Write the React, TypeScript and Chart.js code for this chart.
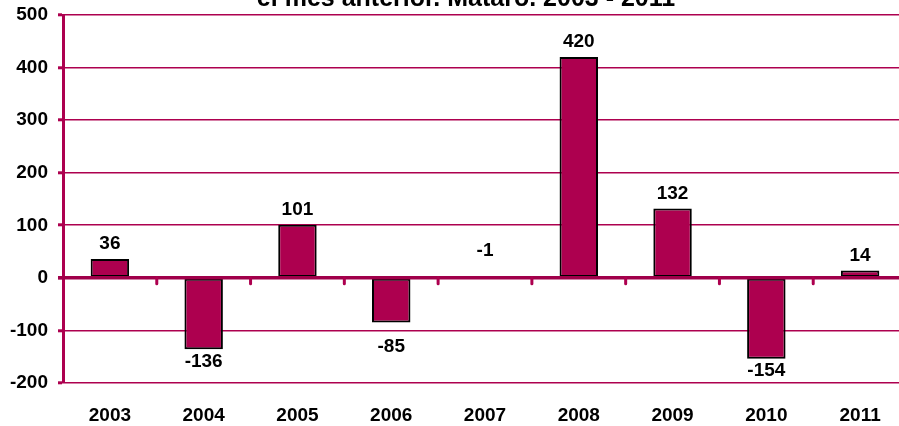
import React, { useEffect, useRef } from "react";
import { Chart, registerables } from "chart.js";

Chart.register(...registerables);

const categories = ["2003", "2004", "2005", "2006", "2007", "2008", "2009", "2010", "2011"];
const values = [36, -136, 101, -85, -1, 420, 132, -154, 14];
const yTicks = [-200, -100, 0, 100, 200, 300, 400, 500];
const titleText = "el mes anterior. Mataró. 2003 - 2011";

const CRIMSON = "#AD004F";
const FONT = '"Liberation Sans", Arial, sans-serif';
const SHIFT = 30;

const overlayPlugin = {
  id: "overlay",
  afterDatasetsDraw(chart: any) {
    const ctx = chart.ctx;
    const y = chart.scales.y;
    const area = chart.chartArea;
    const y0 = y.getPixelForValue(0);
    ctx.save();
    ctx.strokeStyle = "#A0004A";
    ctx.lineCap = "butt";
    ctx.lineWidth = 3.5;
    ctx.beginPath();
    ctx.moveTo(area.left - 5, y0);
    ctx.lineTo(area.right, y0);
    ctx.stroke();
    // category boundary tick marks on the zero line
    ctx.strokeStyle = CRIMSON;
    ctx.lineWidth = 3;
    ctx.lineCap = "round";
    const n = categories.length;
    const w = (area.right - area.left) / n;
    for (let i = 1; i < n; i++) {
      const px = area.left + i * w;
      ctx.beginPath();
      ctx.moveTo(px, y0);
      ctx.lineTo(px, y0 + 6);
      ctx.stroke();
    }
    // value labels
    ctx.fillStyle = "#000";
    ctx.font = "bold 19px " + FONT;
    ctx.textAlign = "center";
    ctx.textBaseline = "middle";
    const gridPx = yTicks.map((t) => y.getPixelForValue(t));
    const meta = chart.getDatasetMeta(0);
    meta.data.forEach((bar: any, i: number) => {
      const v = values[i];
      let ty;
      if (v >= 0) ty = bar.y - 15;
      else if (v > -5) ty = y0 - 27;
      else {
        ty = bar.y + 12;
        for (const g of gridPx) {
          if (Math.abs(ty - g) < 10 && g > bar.y) ty = g + 16;
        }
      }
      ctx.fillText(String(v), bar.x, ty);
    });
    // title (second line, partly cut off at the top)
    ctx.font = "bold 25px " + FONT;
    ctx.textBaseline = "alphabetic";
    ctx.fillText(titleText, 466, SHIFT + 6);
    ctx.restore();
  },
};

export default function App() {
  const ref = useRef<HTMLCanvasElement>(null);
  useEffect(() => {
    document.body.style.overflow = "hidden";
    const chart = new Chart(ref.current!, {
      type: "bar",
      data: {
        labels: categories,
        datasets: [
          {
            data: values,
            backgroundColor: CRIMSON,
            borderColor: "#000",
            borderWidth: 2,
            borderSkipped: false,
            barPercentage: 0.41,
            categoryPercentage: 1,
          },
        ],
      },
      options: {
        responsive: false,
        animation: false,
        devicePixelRatio: 1,
        layout: { padding: { top: 45, right: 3, left: 0, bottom: 0 } },
        plugins: { legend: { display: false }, tooltip: { enabled: false }, title: { display: false } },
        scales: {
          x: {
            grid: { display: false },
            border: { display: false },
            ticks: {
              color: "#000",
              font: { family: FONT, size: 19, weight: "bold" },
              padding: 13,
              maxRotation: 0,
            },
            afterFit: (s: any) => {
              s.height = 43;
            },
          },
          y: {
            min: -200,
            max: 500,
            afterBuildTicks: (s: any) => {
              s.ticks = yTicks.map((v) => ({ value: v }));
            },
            grid: {
              color: CRIMSON,
              lineWidth: 1.6,
              tickLength: 5,
              tickColor: CRIMSON,
              tickWidth: 3,
            },
            border: { color: CRIMSON, width: 3 },
            ticks: {
              color: "#000",
              font: { family: FONT, size: 19, weight: "bold" },
              padding: 10,
            },
            afterFit: (s: any) => {
              s.width = 63;
            },
          },
        },
      },
      plugins: [overlayPlugin],
    });
    return () => chart.destroy();
  }, []);
  return (
    <div style={{ position: "absolute", left: 0, top: -SHIFT, width: 910, height: 456 }}>
      <canvas ref={ref} width={910} height={456} style={{ display: "block" }} />
    </div>
  );
}
